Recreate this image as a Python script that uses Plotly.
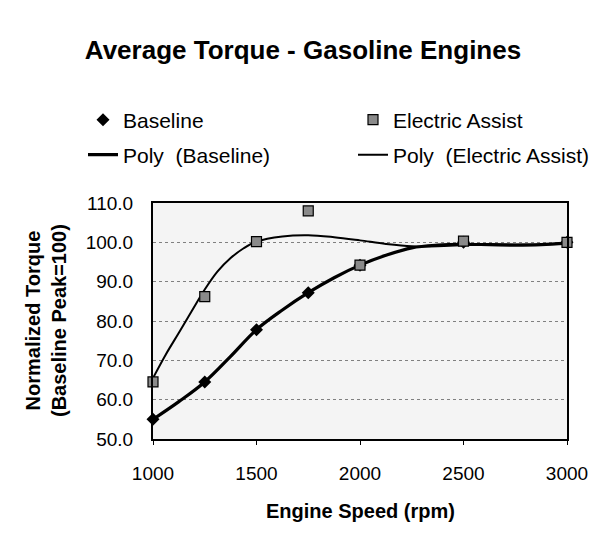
import plotly.graph_objects as go

# ---- data ----
speeds = [1000, 1250, 1500, 1750, 2000, 2500, 3000]
baseline = [55.0, 64.5, 77.8, 87.2, 94.2, 100.0, 100.0]
electric_assist = [64.5, 86.2, 100.2, 108.0, 94.2, 100.3, 100.0]

# trendline ("Poly") curves
poly_base_x = [1000, 1125, 1250, 1375, 1500, 1625, 1750, 1875, 2000, 2125, 2250, 2375, 2500, 2625, 2750, 2875, 3000]
poly_base_y = [55.0, 59.5, 64.5, 71.0, 77.8, 82.8, 87.2, 91.0, 94.2, 96.7, 98.6, 99.3, 99.5, 99.4, 99.3, 99.4, 99.8]
poly_ea_x = [1000, 1062, 1125, 1188, 1250, 1312, 1375, 1438, 1500, 1625, 1750, 1875, 2000, 2125, 2250, 2375, 2500, 2625, 2750, 2875, 3000]
poly_ea_y = [65.5, 71.5, 77.0, 82.6, 88.0, 92.6, 96.0, 98.5, 100.2, 101.5, 101.8, 101.3, 100.5, 99.6, 99.0, 99.0, 99.3, 99.5, 99.4, 99.4, 99.8]

x_ticks = [1000, 1500, 2000, 2500, 3000]
y_ticks = [50, 60, 70, 80, 90, 100, 110]

FONT = "Liberation Sans, Arial, sans-serif"
W, H = 600, 539
L, R, T, B = 145, 41, 195, 108
pw, ph = W - L - R, H - T - B

fig = go.Figure()

fig.add_trace(go.Scatter(
    x=poly_base_x, y=poly_base_y, mode="lines", line_shape="spline",
    line=dict(color="black", width=3.2), name="Poly  (Baseline)",
    legend="legend3", cliponaxis=False))
fig.add_trace(go.Scatter(
    x=poly_ea_x, y=poly_ea_y, mode="lines", line_shape="spline",
    line=dict(color="black", width=2), name="Poly  (Electric Assist)",
    legend="legend4", cliponaxis=False))
fig.add_trace(go.Scatter(
    x=speeds, y=baseline, mode="markers", name="Baseline",
    marker=dict(symbol="diamond", size=10, color="black"),
    legend="legend", cliponaxis=False))
fig.add_trace(go.Scatter(
    x=speeds, y=electric_assist, mode="markers", name="Electric Assist",
    marker=dict(symbol="square", size=10, color="#8a8a8a",
                line=dict(color="black", width=1.2)),
    legend="legend2", cliponaxis=False))


def leg(xpx, ypx):
    return dict(orientation="h", xref="container", yref="container",
                x=xpx / W, y=1 - ypx / H, xanchor="left", yanchor="middle",
                font=dict(size=21, family=FONT, color="black"),
                bgcolor="rgba(0,0,0,0)", borderwidth=0)


fig.update_layout(
    width=W, height=H,
    margin=dict(l=L, r=R, t=T, b=B, autoexpand=False),
    paper_bgcolor="white", plot_bgcolor="#f4f4f4",
    font=dict(family=FONT, color="black", size=19),
    title=dict(text="<b>Average Torque - Gasoline Engines</b>",
               xref="container", yref="container",
               x=295 / W, y=1 - 42 / H, xanchor="center", yanchor="middle",
               font=dict(size=26, family=FONT, color="black")),
    legend=leg(75, 112),
    legend2=leg(345, 112),
    legend3=leg(75, 147),
    legend4=leg(345, 147),
    xaxis=dict(range=[1000, 3000], tickvals=x_ticks,
               showgrid=False, zeroline=False,
               showline=True, linecolor="black", linewidth=2, mirror=True,
               ticks="outside", ticklen=4, tickcolor="black",
               ticklabelstandoff=12,
               tickfont=dict(size=19, family=FONT)),
    yaxis=dict(range=[50, 110], tickvals=y_ticks, tickformat=".1f",
               showgrid=True, gridcolor="#808080", griddash="dot", gridwidth=1,
               zeroline=False,
               showline=True, linecolor="black", linewidth=2, mirror=True,
               ticks="", ticklabelstandoff=14,
               tickfont=dict(size=19, family=FONT)),
    showlegend=True,
)

fig.add_annotation(text="<b>Engine Speed (rpm)</b>", xref="paper", yref="paper",
                   x=0.5, y=-(503 - (T + ph)) / ph, xanchor="center", yanchor="middle",
                   showarrow=False, font=dict(size=20, family=FONT))
fig.add_annotation(text="<b>Normalized Torque<br>(Baseline Peak=100)</b>",
                   xref="paper", yref="paper",
                   x=-(L - 38) / pw, y=0.5, xanchor="center", yanchor="middle",
                   textangle=-90, showarrow=False,
                   font=dict(size=20, family=FONT))

fig.write_html("out.html")
